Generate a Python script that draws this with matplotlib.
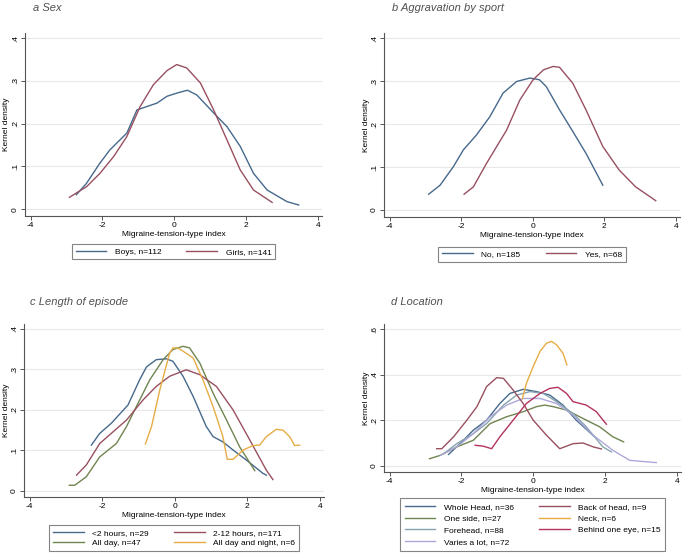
import matplotlib.pyplot as plt

plt.rcParams['font.family'] = ['Liberation Sans', 'DejaVu Sans']

# ---- data (x = index, y = kernel density) ----
# a Sex
boys_x = [-2.73, -2.45, -2.07, -1.79, -1.32, -1.04, -0.48, -0.2, 0.1, 0.37, 0.63, 1.1, 1.47, 1.84, 2.21, 2.59, 3.14, 3.47]
boys_y = [0.034, 0.06, 0.108, 0.139, 0.178, 0.232, 0.248, 0.264, 0.272, 0.278, 0.267, 0.225, 0.193, 0.147, 0.084, 0.045, 0.018, 0.010]
girls_x = [-2.92, -2.44, -2.07, -1.69, -1.32, -0.95, -0.58, -0.2, 0.07, 0.35, 0.73, 1.1, 1.47, 1.84, 2.21, 2.73]
girls_y = [0.028, 0.053, 0.084, 0.123, 0.17, 0.24, 0.291, 0.324, 0.338, 0.33, 0.295, 0.232, 0.162, 0.092, 0.045, 0.016]

# b Aggravation by sport
no_x = [-2.91, -2.59, -2.22, -1.94, -1.57, -1.2, -0.83, -0.45, -0.08, 0.19, 0.38, 0.75, 1.12, 1.49, 1.96]
no_y = [0.037, 0.058, 0.101, 0.14, 0.175, 0.217, 0.272, 0.299, 0.307, 0.303, 0.287, 0.233, 0.183, 0.132, 0.058]
yes_x = [-1.92, -1.66, -1.29, -0.73, -0.36, 0.01, 0.3, 0.57, 0.75, 1.12, 1.49, 1.96, 2.42, 2.88, 3.44]
yes_y = [0.037, 0.054, 0.109, 0.186, 0.256, 0.303, 0.326, 0.334, 0.332, 0.295, 0.233, 0.148, 0.093, 0.054, 0.022]

# c Length of episode
lt2_x = [-2.3, -2.07, -1.75, -1.29, -0.97, -0.78, -0.51, -0.23, -0.05, 0.23, 0.51, 0.87, 1.06, 1.33, 1.61, 1.98, 2.44, 2.53]
lt2_y = [0.113, 0.142, 0.167, 0.212, 0.274, 0.306, 0.324, 0.326, 0.32, 0.283, 0.233, 0.159, 0.134, 0.121, 0.101, 0.076, 0.043, 0.039]
h212_x = [-2.71, -2.44, -2.07, -1.7, -1.33, -0.87, -0.51, -0.14, 0.32, 0.69, 1.15, 1.61, 2.07, 2.53, 2.71]
h212_y = [0.039, 0.064, 0.117, 0.146, 0.175, 0.225, 0.258, 0.283, 0.299, 0.287, 0.258, 0.2, 0.126, 0.051, 0.028]
allday_x = [-2.91, -2.76, -2.44, -2.07, -1.61, -1.33, -1.06, -0.69, -0.32, -0.05, 0.23, 0.41, 0.69, 1.06, 1.43, 1.79, 2.21]
allday_y = [0.014, 0.014, 0.035, 0.084, 0.117, 0.159, 0.208, 0.274, 0.324, 0.349, 0.357, 0.353, 0.316, 0.241, 0.175, 0.109, 0.05]
night_x = [-0.81, -0.64, -0.41, -0.14, -0.05, 0.09, 0.23, 0.51, 0.78, 1.06, 1.33, 1.45, 1.61, 1.89, 2.16, 2.34, 2.53, 2.8, 2.99, 3.17, 3.31, 3.45]
night_y = [0.116, 0.159, 0.25, 0.34, 0.353, 0.353, 0.345, 0.328, 0.274, 0.208, 0.134, 0.078, 0.078, 0.101, 0.112, 0.113, 0.134, 0.152, 0.15, 0.134, 0.112, 0.113]

# d Location
whole_x = [-2.36, -2.04, -1.67, -1.3, -0.93, -0.65, -0.28, 0.09, 0.46, 0.83, 1.2, 1.71]
whole_y = [0.051, 0.098, 0.157, 0.201, 0.274, 0.318, 0.336, 0.326, 0.311, 0.267, 0.201, 0.128]
back_x = [-2.69, -2.55, -2.22, -1.85, -1.57, -1.3, -1.02, -0.83, -0.56, -0.28, 0.0, 0.37, 0.74, 1.11, 1.39, 1.67, 1.9]
back_y = [0.076, 0.076, 0.128, 0.201, 0.26, 0.348, 0.387, 0.384, 0.333, 0.274, 0.201, 0.135, 0.076, 0.098, 0.101, 0.084, 0.075]
oneside_x = [-2.89, -2.59, -2.13, -1.67, -1.2, -0.74, -0.28, 0.09, 0.32, 0.56, 0.93, 1.48, 1.85, 2.22, 2.52]
oneside_y = [0.032, 0.047, 0.084, 0.113, 0.186, 0.216, 0.238, 0.26, 0.267, 0.26, 0.245, 0.201, 0.172, 0.128, 0.106]
neck_x = [-0.3, -0.19, 0.0, 0.19, 0.37, 0.51, 0.65, 0.83, 0.94]
neck_y = [0.296, 0.362, 0.436, 0.502, 0.538, 0.546, 0.531, 0.494, 0.443]
fore_x = [-2.5, -2.13, -1.67, -1.3, -0.83, -0.46, -0.09, 0.28, 0.65, 1.11, 1.48, 1.94, 2.18]
fore_y = [0.054, 0.098, 0.142, 0.186, 0.267, 0.311, 0.326, 0.318, 0.282, 0.23, 0.172, 0.084, 0.062]
eye_x = [-1.62, -1.39, -1.16, -0.93, -0.56, -0.19, 0.19, 0.46, 0.69, 0.93, 1.11, 1.48, 1.76, 2.04]
eye_y = [0.091, 0.087, 0.076, 0.128, 0.201, 0.274, 0.318, 0.34, 0.345, 0.318, 0.282, 0.267, 0.238, 0.183]
varies_x = [-2.59, -2.13, -1.67, -1.2, -0.74, -0.28, 0.19, 0.65, 1.11, 1.67, 2.22, 2.69, 3.43]
varies_y = [0.047, 0.084, 0.142, 0.216, 0.267, 0.296, 0.296, 0.274, 0.223, 0.135, 0.069, 0.025, 0.015]

x_ticks = [-4, -2, 0, 2, 4]
y_ticks_abc = [0, 0.1, 0.2, 0.3, 0.4]
y_labels_abc = ["0", ".1", ".2", ".3", ".4"]
y_ticks_d = [0, 0.2, 0.4, 0.6]
y_labels_d = ["0", ".2", ".4", ".6"]

NAVY = "#46698c"
MAROON = "#985060"
GREEN = "#6f8550"
ORANGE = "#e6ad45"
TEAL = "#86a3ad"
CRAN = "#b3335e"
LAV = "#ada8d8"

W, H = 685, 553
fig = plt.figure(figsize=(W / 100, H / 100), dpi=100)
fig.patch.set_facecolor("white")


def make_ax(left, right, top, bottom, ylim, yticks, ylabels):
    ax = fig.add_axes([left / W, 1 - bottom / H, (right - left) / W, (bottom - top) / H])
    ax.set_xlim(-4.16, 4.12)
    ax.set_ylim(*ylim)
    for s in ["top", "right"]:
        ax.spines[s].set_visible(False)
    for s in ["left", "bottom"]:
        ax.spines[s].set_color("#555555")
        ax.spines[s].set_linewidth(0.8)
    ax.set_xticks(x_ticks)
    ax.set_xticklabels([str(t) for t in x_ticks])
    ax.set_yticks(yticks)
    ax.set_yticklabels(ylabels, rotation=90, va="center")
    ax.tick_params(direction="out", length=3, width=0.7, color="#555555",
                   labelsize=6, pad=1.5)
    ax.grid(axis="y", color="#e8e8e8", linewidth=0.8)
    ax.set_axisbelow(True)
    ax.set_xlabel("Migraine-tension-type index", fontsize=6, labelpad=1)
    ax.set_ylabel("Kernel density", fontsize=6)
    # label sits ~14 px left of the axis line
    ax.yaxis.set_label_coords(-14.5 / (right - left), 0.5)
    return ax


def legend(ax, anchor_y, spacing=0.35, pad=0.45):
    leg = ax.legend(ncol=2, loc="upper center", bbox_to_anchor=(0.5, anchor_y),
                    fontsize=6, frameon=True, fancybox=False, handlelength=3.7,
                    columnspacing=3.0, handletextpad=1.0, borderpad=pad,
                    labelspacing=spacing, borderaxespad=0)
    leg.get_frame().set_edgecolor("#666666")
    leg.get_frame().set_linewidth(0.8)


def title(x, y, s):
    fig.text(x / W, 1 - y / H, s, fontsize=8, style="italic", color="#505050",
             va="center", ha="left")


lw = 1.0

# a
ax = make_ax(25, 322, 33, 216, (-0.0157, 0.4117), y_ticks_abc, y_labels_abc)
ax.plot(boys_x, boys_y, color=NAVY, lw=lw, label="Boys, n=112")
ax.plot(girls_x, girls_y, color=MAROON, lw=lw, label="Girls, n=141")
legend(ax, -0.153)
title(33, 8, "a Sex")

# b
ax = make_ax(384, 680, 33, 217, (-0.016, 0.4117), y_ticks_abc, y_labels_abc)
ax.plot(no_x, no_y, color=NAVY, lw=lw, label="No, n=185")
ax.plot(yes_x, yes_y, color=MAROON, lw=lw, label="Yes, n=68")
legend(ax, -0.162)
title(392, 8, "b Aggravation by sport")

# c
ax = make_ax(24, 324, 324, 497, (-0.015, 0.412), y_ticks_abc, y_labels_abc)
ax.plot(lt2_x, lt2_y, color=NAVY, lw=lw, label="<2 hours, n=29")
ax.plot(allday_x, allday_y, color=GREEN, lw=lw, label="All day, n=47")
ax.plot(h212_x, h212_y, color=MAROON, lw=lw, label="2-12 hours, n=171")
ax.plot(night_x, night_y, color=ORANGE, lw=lw, label="All day and night, n=6")
legend(ax, -0.162)
title(30, 302, "c Length of episode")

# d
ax = make_ax(384, 681, 324, 472, (-0.026, 0.622), y_ticks_d, y_labels_d)
ax.plot(whole_x, whole_y, color=NAVY, lw=lw, label="Whole Head, n=36")
ax.plot(oneside_x, oneside_y, color=GREEN, lw=lw, label="One side, n=27")
ax.plot(fore_x, fore_y, color=TEAL, lw=lw, label="Forehead, n=88")
ax.plot(varies_x, varies_y, color=LAV, lw=lw, label="Varies a lot, n=72")
ax.plot(back_x, back_y, color=MAROON, lw=lw, label="Back of head, n=9")
ax.plot(neck_x, neck_y, color=ORANGE, lw=lw, label="Neck, n=6")
ax.plot(eye_x, eye_y, color=CRAN, lw=lw, label="Behind one eye, n=15")
legend(ax, -0.176, spacing=0.45, pad=0.6)
title(391, 302, "d Location")

fig.savefig("out.png", dpi=100)
